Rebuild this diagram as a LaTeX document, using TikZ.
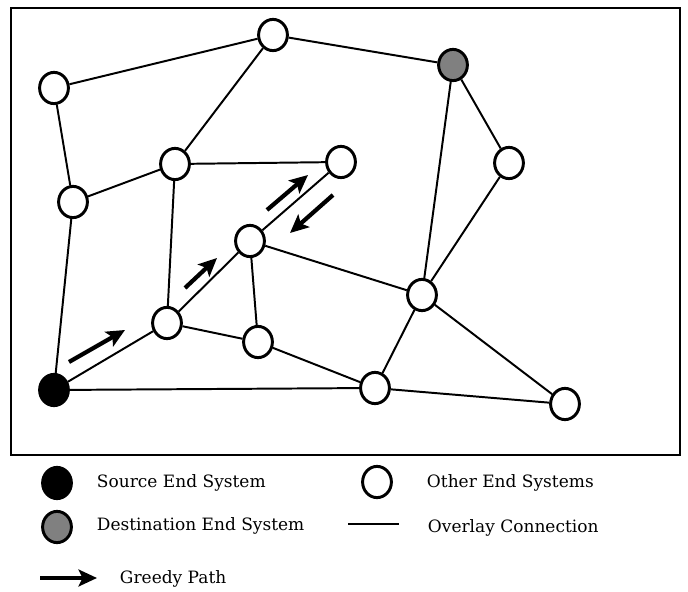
\documentclass[tikz,border=0pt]{standalone}
\usepackage{fontspec}
\setmainfont{DejaVu Serif}
\usepackage{tikz}
\usetikzlibrary{arrows.meta}
\usetikzlibrary{shapes.geometric}
\usetikzlibrary{positioning}
\tikzset{endsys/.style = {ellipse, draw, line width=2.1pt, fill=white,
                          minimum width=0.72cm, minimum height=0.78cm, inner sep=0pt},
         srcsys/.style = {endsys, fill=black},
         dstsys/.style = {endsys, fill=mgray},
         link/.style = {line width=1.4pt},
         greedy/.style = {line width=3pt,
                          -{Stealth[length=4.6mm, width=4.2mm, inset=1mm]}},
         legtext/.style = {anchor=west, font=\fontsize{12.1}{15}\selectfont}}
\definecolor{mgray}{rgb}{0.5, 0.5, 0.5}

\begin{document}
\begin{tikzpicture}
      \useasboundingbox (0, 0) rectangle (17.2, 14.775);
      \draw [line width=2pt] (0.275, 3.4) rectangle (17.0, 14.575);

      \node [endsys] (a) at (1.35, 12.575) {};
      \node [endsys] (b) at (6.825, 13.9) {};
      \node [dstsys] (dst) at (11.325, 13.15) {};
      \node [endsys] (c) at (1.825, 9.725) {};
      \node [endsys] (e) at (4.375, 10.675) {};
      \node [endsys] (f) at (8.525, 10.725) {};
      \node [endsys] (g) at (12.725, 10.7) {};
      \node [endsys] (h) at (6.25, 8.75) {};
      \node [endsys] (i) at (10.55, 7.4) {};
      \node [endsys] (j) at (4.175, 6.7) {};
      \node [endsys] (k) at (6.45, 6.225) {};
      \node [srcsys] (src) at (1.35, 5.025) {};
      \node [endsys] (l) at (9.375, 5.075) {};
      \node [endsys] (m) at (14.125, 4.675) {};

      \draw [link] (a) -- (b);
      \draw [link] (b) -- (dst);
      \draw [link] (a) -- (c);
      \draw [link] (b) -- (e);
      \draw [link] (c) -- (e);
      \draw [link] (e) -- (f);
      \draw [link] (c) -- (src);
      \draw [link] (e) -- (j);
      \draw [link] (dst) -- (g);
      \draw [link] (dst) -- (i);
      \draw [link] (g) -- (i);
      \draw [link] (h) -- (f);
      \draw [link] (j) -- (h);
      \draw [link] (h) -- (i);
      \draw [link] (h) -- (k);
      \draw [link] (j) -- (k);
      \draw [link] (k) -- (l);
      \draw [link] (src) -- (j);
      \draw [link] (src) -- (l);
      \draw [link] (l) -- (i);
      \draw [link] (i) -- (m);
      \draw [link] (l) -- (m);

      \coordinate (p1) at (1.725, 5.725);
      \coordinate (q1) at (3.125, 6.525);
      \coordinate (p2) at (4.625, 7.575);
      \coordinate (q2) at (5.425, 8.325);
      \coordinate (p3) at (6.675, 9.525);
      \coordinate (q3) at (7.7, 10.4);
      \coordinate (p4) at (8.325, 9.9);
      \coordinate (q4) at (7.25, 8.95);
      \draw [greedy] (p1) -- (q1);
      \draw [greedy] (p2) -- (q2);
      \draw [greedy] (p3) -- (q3);
      \draw [greedy] (p4) -- (q4);

      % legend
      \node [srcsys] (lsrc) at (1.425, 2.7) {};
      \node [legtext] (tsrc) at (2.3, 2.7) {Source End System};
      \node [dstsys] (ldst) at (1.425, 1.6) {};
      \node [legtext] (tdst) at (2.3, 1.62) {Destination End System};
      \node [endsys] (loth) at (9.425, 2.725) {};
      \node [legtext] (toth) at (10.55, 2.7) {Other End Systems};
      \coordinate (ll1) at (8.7, 1.675);
      \coordinate (ll2) at (9.975, 1.675);
      \draw [link] (ll1) -- (ll2);
      \node [legtext] (tlink) at (10.575, 1.58) {Overlay Connection};
      \coordinate (lg1) at (1.0, 0.325);
      \coordinate (lg2) at (2.425, 0.325);
      \draw [greedy] (lg1) -- (lg2);
      \node [legtext] (tgreedy) at (2.875, 0.3) {Greedy Path};
    \end{tikzpicture}
\end{document}
